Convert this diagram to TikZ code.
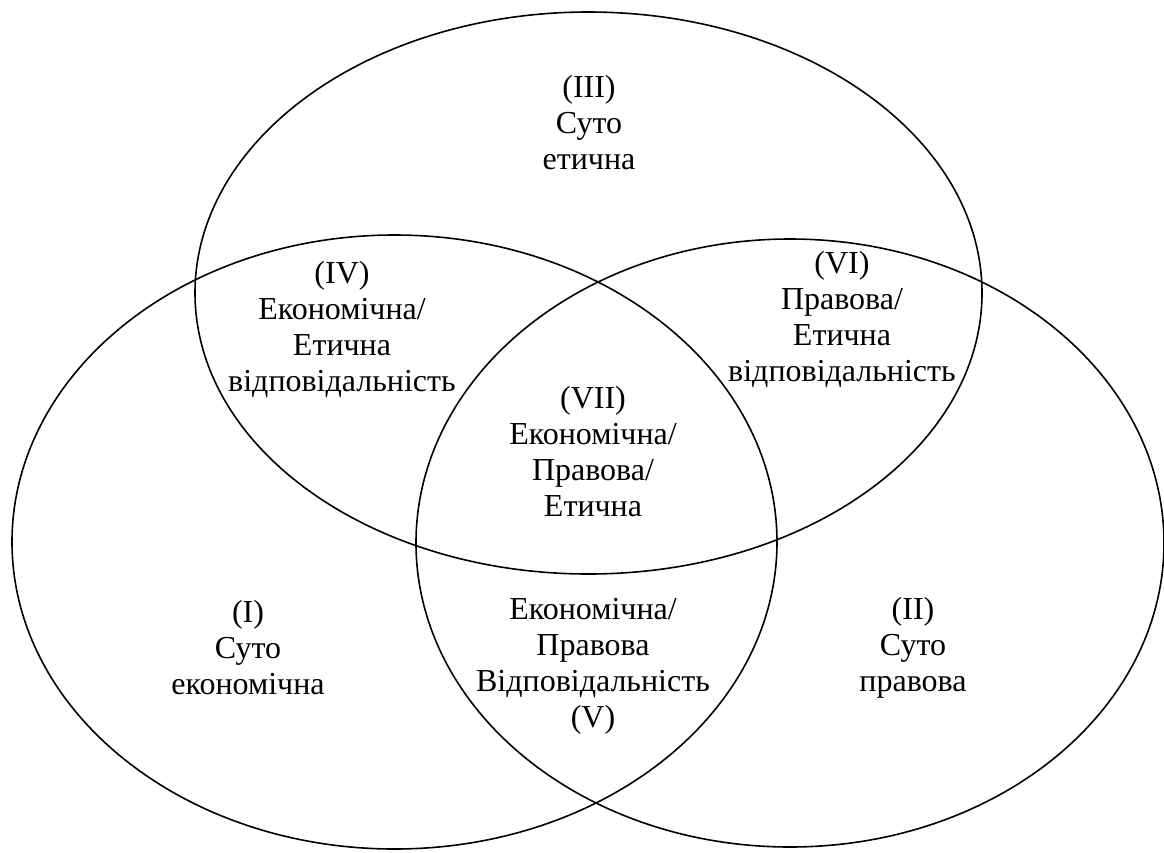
\documentclass[tikz,border=0pt]{standalone}
\usepackage{fontspec}
\setmainfont{Liberation Serif}
\usetikzlibrary{positioning}

\begin{document}
\begin{tikzpicture}[x=1pt, y=-1pt,
    ring/.style={draw, black, line width=1.6pt},
    label/.style={align=center, inner sep=0pt, font=\fontsize{32}{36}\selectfont}]

    \useasboundingbox (0,0) rectangle (1164,852);

    % --- Circles ---
    \draw[ring] (588.5,293) ellipse [x radius=393.5, y radius=281];
    \draw[ring] (394.5,542) ellipse [x radius=382.5, y radius=307];
    \draw[ring] (790,543) ellipse [x radius=374, y radius=304];

    % --- Single areas ---
    \node[label] (ethic) at (589,123) {(III)\\Суто\\етична};
    \node[label] (econ) at (248,648) {(I)\\Суто\\економічна};
    \node[label] (law) at (913,648) {(II)\\Суто\\правова};

    % --- Overlaps ---
    \node[label] (econ_ethic) at (342,329) {(IV)\\Економічна/\\Етична\\відповідальність};
    \node[label] (law_ethic) at (842,319) {(VI)\\Правова/\\Етична\\відповідальність};
    \node[label] (econ_law) at (593,666) {Економічна/\\Правова\\Відповідальність\\(V)};
    \node[label] (all) at (593,452) {(VII)\\Економічна/\\Правова/\\Етична};

\end{tikzpicture}
\end{document}
